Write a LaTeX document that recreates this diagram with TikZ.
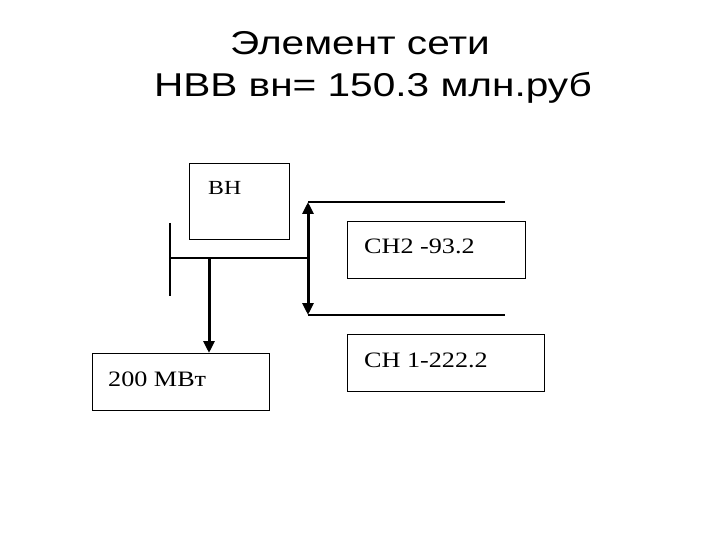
\documentclass[tikz,border=0pt]{standalone}
\usepackage{fontspec}
\setmainfont[FakeStretch=1.19]{Liberation Serif}
\newfontfamily\titlefont[FakeStretch=1.23]{Liberation Sans}
\usetikzlibrary{arrows.meta,positioning}

\tikzset{
  unitbox/.style={draw, line width=1.4pt, inner sep=0pt, anchor=north west,
    minimum width=#1, minimum height=57pt},
  boxtext/.style={anchor=base west, inner sep=0pt,
    font=\fontsize{22}{26}\selectfont},
  busline/.style={line width=1.3pt},
  flow/.style={line width=3pt, -{Triangle[width=11pt,length=12pt]}},
  twoway/.style={line width=3pt, {Triangle[width=11pt,length=12pt]}-{Triangle[width=11pt,length=12pt]}},
  heading/.style={anchor=base, inner sep=0pt,
    font=\titlefont\fontsize{33}{40}\selectfont}
}

\begin{document}
\begin{tikzpicture}[x=1pt,y=-1pt]
\useasboundingbox (0,0) rectangle (720,540);

% title
\node[heading] (title1) at (360,55) {Элемент сети};
\node[heading] (title2) at (373,97) {НВВ вн= 150.3 млн.руб};

% boxes
\node[unitbox=100pt, minimum height=76pt] (vn) at (189,163) {};
\node[boxtext] (vnlab) at (208,195) {\fontsize{20}{24}\selectfont ВН};

\node[unitbox=177pt] (load) at (92,353) {};
\node[boxtext] (loadlab) at (108,386) {200 МВт};

\node[unitbox=178pt] (sn2) at (347,221) {};
\node[boxtext] (sn2lab) at (364,253) {СН2 -93.2};

\node[unitbox=197pt] (sn1) at (347,334) {};
\node[boxtext] (sn1lab) at (364,367) {СН 1-222.2};

% bus
\coordinate (bustop) at (170,223);
\coordinate (busbot) at (170,296);
\coordinate (busleft) at (170,258);
\coordinate (busright) at (308,258);
\coordinate (tap) at (209,258);
\draw[busline] (bustop) -- (busbot);
\draw[busline] (busleft) -- (busright);

% flow down to load
\draw[flow] (tap) -- (tap |- load.north);

% exchange with CH2
\coordinate (uptop) at (308,202);
\coordinate (upbot) at (308,315);
\coordinate (uprightend) at (505,202);
\coordinate (lowrightend) at (505,315);
\draw[busline] (uptop) -- (uprightend);
\draw[busline] (upbot) -- (lowrightend);
\draw[twoway] (uptop) -- (upbot);

\end{tikzpicture}
\end{document}
